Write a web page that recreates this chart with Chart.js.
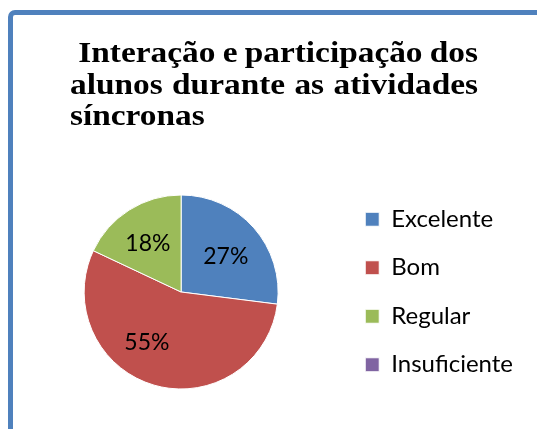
<!DOCTYPE html>
<html lang="pt">
<head>
    <meta charset="UTF-8">
    <title>Interação e participação dos alunos</title>
    <script src="https://cdn.jsdelivr.net/npm/chart.js"></script>
    <style>
        body { margin: 0; background: #fff; overflow: hidden; }
        .frame { position: absolute; left: 8px; top: 10px; width: 620px; height: 520px; border: 5px solid #4F81BD; border-radius: 7px; box-sizing: border-box; }
        .chart-box { position: absolute; left: 0; top: 0; width: 537px; height: 429px; }
    </style>
</head>
<body>
<div class="frame"></div>
<div class="chart-box"><canvas id="pieChart"></canvas></div>

<script>
    const titleLines = [' Interação e participação dos', 'alunos durante as atividades', 'síncronas'];
    const categories = ['Excelente', 'Bom', 'Regular', 'Insuficiente'];
    const percentages = [27, 55, 18, 0];
    const sliceColors = ['#4F81BD', '#C0504D', '#9BBB59', '#8064A2'];
    // small nudges so the labels sit where Excel put them
    const labelShift = [[1, 3], [-18, -5], [-2, 1], [0, 0]];

    // justified title, like the text box in the original (text is a bit wide there)
    const justifiedTitle = {
        id: 'justifiedTitle',
        afterDraw(chart) {
            const ctx = chart.ctx, left = 70, right = 478, lineHeight = 31.5, stretch = 1.15;
            ctx.save();
            ctx.font = "bold 29px 'Liberation Serif', 'Times New Roman', serif";
            ctx.fillStyle = '#000';
            ctx.textBaseline = 'alphabetic';
            const w = s => ctx.measureText(s).width * stretch;
            const put = (s, x, y) => { ctx.save(); ctx.translate(x, y); ctx.scale(stretch, 1); ctx.fillText(s, 0, 0); ctx.restore(); };
            titleLines.forEach((line, i) => {
                const y = 62 + i * lineHeight;
                const indent = line.startsWith(' ') ? w(' ') : 0;
                const words = line.trim().split(' ');
                if (i === titleLines.length - 1 || words.length < 2) {
                    put(words.join(' '), left + indent, y);
                    return;
                }
                const used = words.reduce((s, word) => s + w(word), 0);
                const gap = (right - left - indent - used) / (words.length - 1);
                let x = left + indent;
                words.forEach(word => { put(word, x, y); x += w(word) + gap; });
            });
            ctx.restore();
        }
    };

    const sliceLabels = {
        id: 'sliceLabels',
        afterDatasetsDraw(chart) {
            const ctx = chart.ctx;
            const meta = chart.getDatasetMeta(0);
            ctx.save();
            ctx.font = "23px Lato, 'Noto Sans', sans-serif";
            ctx.fillStyle = '#000';
            ctx.textAlign = 'center';
            ctx.textBaseline = 'middle';
            meta.data.forEach((arc, i) => {
                const v = percentages[i];
                if (!v) return;
                const p = arc.getProps(['x', 'y', 'startAngle', 'endAngle', 'outerRadius'], true);
                const mid = (p.startAngle + p.endAngle) / 2;
                const r = p.outerRadius * 0.6;
                ctx.fillText(v + '%', p.x + Math.cos(mid) * r + labelShift[i][0], p.y + Math.sin(mid) * r + labelShift[i][1]);
            });
            ctx.restore();
        }
    };

    new Chart(document.getElementById('pieChart').getContext('2d'), {
        type: 'pie',
        data: {
            labels: categories,
            datasets: [{ data: percentages, backgroundColor: sliceColors, borderColor: '#ffffff', borderWidth: 1, hoverOffset: 0 }]
        },
        options: {
            responsive: true,
            maintainAspectRatio: false,
            animation: false,
            radius: 97,
            layout: { padding: { top: 160, bottom: 5, left: 21.5, right: 14 } },
            plugins: {
                legend: {
                    position: 'right',
                    labels: { boxWidth: 14, boxHeight: 14, padding: 24.5, color: '#000', font: { family: "Lato, 'Noto Sans', sans-serif", size: 24 } }
                },
                tooltip: { enabled: false },
                title: { display: false }
            }
        },
        plugins: [justifiedTitle, sliceLabels]
    });
</script>
</body>
</html>
